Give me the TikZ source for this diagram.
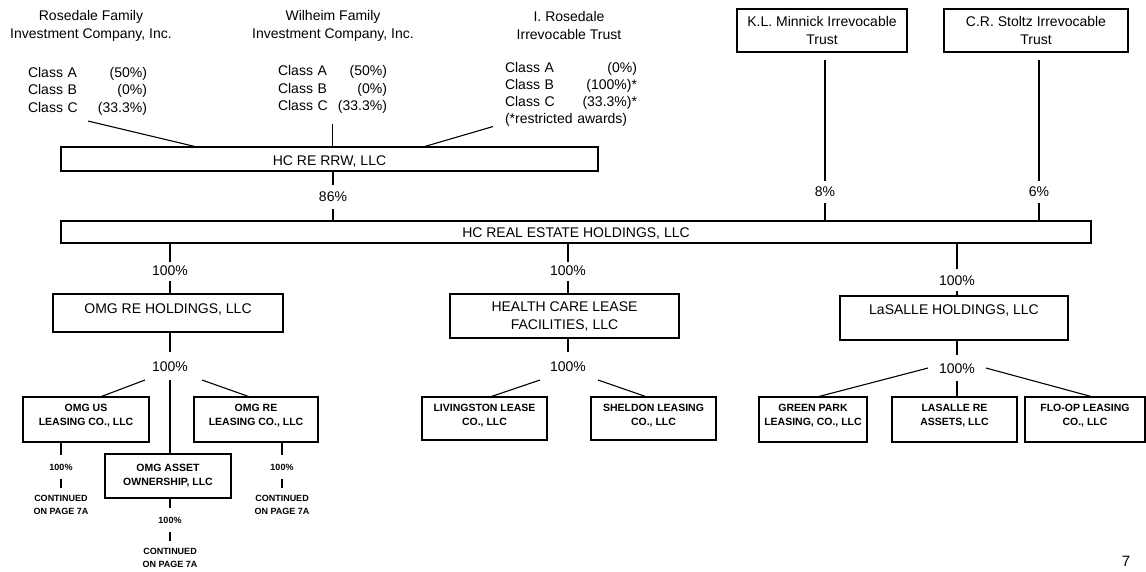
\documentclass[tikz,border=0pt]{standalone}
\usepackage{fontspec}
\setmainfont{Liberation Sans}
\begin{document}
\begin{tikzpicture}[x=1pt,y=-1pt,
  every node/.style={inner sep=0pt, outer sep=0pt},
  lbl/.style={font=\fontsize{14}{18}\selectfont, align=center},
  cls/.style={font=\fontsize{14}{17.5}\selectfont, align=left, anchor=north west},
  box/.style={draw, line width=1.1pt, font=\fontsize{14}{18}\selectfont, align=center},
  sbox/.style={draw, line width=1.1pt, font=\bfseries\fontsize{10.5}{14}\selectfont, align=center},
  pct/.style={font=\fontsize{14}{18}\selectfont, text height=10pt, text depth=0pt},
  spct/.style={font=\bfseries\fontsize{9}{12}\selectfont, text height=6.5pt, text depth=0pt, inner ysep=8.75pt},
  cont/.style={font=\bfseries\fontsize{9}{12.5}\selectfont, align=center, inner ysep=7.75pt},
  conn/.style={line width=1.1pt}
]
\path[use as bounding box, fill=white] (0,0) rectangle (1146,572);

% ---------- top owners ----------
\node[lbl] (rosefam) at (91,25.5) {Rosedale Family\\Investment Company, Inc.};
\node[lbl] (wilfam) at (333,25.5) {Wilheim Family\\Investment Company, Inc.};
\node[lbl] (irtrust) at (569,25.5) {I. Rosedale\\Irrevocable Trust};

\node[cls, text width=119pt] (rcls) at (28,67) {Class A\hfill(50\%)\\Class B\hfill(0\%)\\Class C\hfill(33.3\%)};
\node[cls, text width=109pt] (wcls) at (278,65.5) {Class A\hfill(50\%)\\Class B\hfill(0\%)\\Class C\hfill(33.3\%)};
\node[cls, text width=132pt, font=\fontsize{14}{17}\selectfont] (icls) at (505,62.5) {Class A\hfill(0\%)\\Class B\hfill(100\%)*\\Class C\hfill(33.3\%)*\\(*restricted awards)};

\node[box, minimum width=170pt, minimum height=43pt] (klm) at (822,30.5) {K.L. Minnick Irrevocable\\Trust};
\node[box, minimum width=184pt, minimum height=43pt] (crs) at (1036,30.5) {C.R. Stoltz Irrevocable\\Trust};

% ---------- middle bars ----------
\node[box, minimum width=537pt, minimum height=24pt, text height=14pt, text depth=0pt] (rrw) at (329.5,159) {HC RE RRW, LLC};
\node[box, minimum width=1030pt, minimum height=22pt, text height=12pt, text depth=0pt] (hcre) at (576,232) {HC REAL ESTATE HOLDINGS, LLC};

% connectors into HC RE RRW
\coordinate (rclsend) at ([xshift=60pt,yshift=-6pt]rcls.south west);
\draw[conn] (rclsend) -- ([xshift=-132.5pt]rrw.north);
\coordinate (wclsend) at ([yshift=-10.5pt]wcls.south);
\draw[conn] (wclsend) -- (rrw.north -| wclsend);
\coordinate (iclsend) at ([xshift=-12pt,yshift=0pt]icls.south west);
\draw[conn] (iclsend) -- ([xshift=93.5pt]rrw.north);

% percentages into HC REAL ESTATE HOLDINGS
\node[pct, inner ysep=7pt] (p86) at (333,197) {86\%};
\draw[conn] (rrw.south -| p86) -- (p86.north);
\draw[conn] (p86.south) -- (hcre.north -| p86);

\node[pct, inner ysep=6pt] (p8) at (825,192) {8\%};
\coordinate (klmb) at ([yshift=-8pt]klm.south);
\draw[conn] (klmb -| p8) -- (p8.north);
\draw[conn] (p8.south) -- (hcre.north -| p8);

\node[pct, inner ysep=6pt] (p6) at (1039,192) {6\%};
\coordinate (crsb) at ([yshift=-8pt]crs.south);
\draw[conn] (crsb -| p6) -- (p6.north);
\draw[conn] (p6.south) -- (hcre.north -| p6);

% ---------- second level ----------
\node[box, minimum width=230pt, minimum height=38pt, text height=10pt, text depth=10pt] (omg) at (168,313) {OMG RE HOLDINGS, LLC};
\node[box, minimum width=229pt, minimum height=44pt, text depth=0pt] (hclf) at (564.5,316) {HEALTH CARE LEASE\\FACILITIES, LLC};
\node[box, minimum width=228pt, minimum height=44pt, text height=10pt, text depth=18pt] (lsh) at (954,318) {LaSALLE HOLDINGS, LLC};

\node[pct, inner ysep=4.5pt] (p1) at (170,271) {100\%};
\draw[conn] (hcre.south -| p1) -- (p1.north);
\draw[conn] (p1.south) -- (omg.north -| p1);

\node[pct, inner ysep=4.5pt] (p3) at (568,271) {100\%};
\draw[conn] (hcre.south -| p3) -- (p3.north);
\draw[conn] (p3.south) -- (hclf.north -| p3);

\node[pct, inner ysep=6pt] (p4) at (957,280) {100\%};
\draw[conn] (hcre.south -| p4) -- (p4.north);
\draw[conn] (p4.south) -- (lsh.north -| p4);

% ---------- third level: OMG ----------
\node[sbox, minimum width=126pt, minimum height=45pt, text depth=9pt] (omgus) at (86,419.5) {OMG US\\LEASING CO., LLC};
\node[sbox, minimum width=124pt, minimum height=45pt, text depth=9pt] (omgrl) at (256,419.5) {OMG RE\\LEASING CO., LLC};
\node[sbox, minimum width=126pt, minimum height=44pt] (omga) at (168,476) {OMG ASSET\\OWNERSHIP, LLC};

\node[pct, inner ysep=9pt] (p5) at (170,366) {100\%};
\draw[conn] (omg.south -| p5) -- (p5.north);
\draw[conn] ([xshift=-25pt]p5.south) -- ([xshift=14pt]omgus.north);
\draw[conn] ([xshift=32pt]p5.south) -- ([xshift=-6pt]omgrl.north);
\draw[conn] (p5.south) -- (omga.north -| p5);

\node[spct] (s1) at (61,467) {100\%};
\node[cont] (c1) at (61,505) {CONTINUED\\ON PAGE 7A};
\draw[conn] (omgus.south -| s1) -- (s1.north);
\draw[conn] (s1.south) -- (c1.north);

\node[spct] (s2) at (282,467) {100\%};
\node[cont] (c2) at (282,505) {CONTINUED\\ON PAGE 7A};
\draw[conn] (omgrl.south -| s2) -- (s2.north);
\draw[conn] (s2.south) -- (c2.north);

\node[spct] (s3) at (170,520) {100\%};
\node[cont] (c3) at (170,558) {CONTINUED\\ON PAGE 7A};
\draw[conn] (omga.south -| s3) -- (s3.north);
\draw[conn] (s3.south) -- (c3.north);

% ---------- third level: Health Care ----------
\node[sbox, minimum width=125pt, minimum height=43pt, text depth=8pt] (liv) at (484.5,418.5) {LIVINGSTON LEASE\\CO., LLC};
\node[sbox, minimum width=125pt, minimum height=43pt, text depth=8pt] (shel) at (653.5,418.5) {SHELDON LEASING\\CO., LLC};

\node[pct, inner ysep=9pt] (p7) at (568,366) {100\%};
\draw[conn] (hclf.south -| p7) -- (p7.north);
\draw[conn] ([xshift=-28pt]p7.south) -- ([xshift=5.5pt]liv.north);
\draw[conn] ([xshift=30pt]p7.south) -- ([xshift=-6.5pt]shel.north);

% ---------- third level: LaSalle ----------
\node[sbox, minimum width=108pt, minimum height=45pt, text depth=9pt] (gp) at (813,419.5) {GREEN PARK\\LEASING, CO., LLC};
\node[sbox, minimum width=125pt, minimum height=45pt, text depth=9pt] (lre) at (954.5,419.5) {LASALLE RE\\ASSETS, LLC};
\node[sbox, minimum width=120pt, minimum height=45pt, text depth=9pt] (flo) at (1085,419.5) {FLO-OP LEASING\\CO., LLC};

\node[pct, inner ysep=8pt, inner xsep=11pt] (p9) at (957,368) {100\%};
\draw[conn] (lsh.south -| p9) -- (p9.north);
\draw[conn] (p9.west) -- ([xshift=4pt]gp.north);
\draw[conn] (p9.east) -- ([xshift=8pt]flo.north);
\draw[conn] (p9.south) -- (lre.north -| p9);

% page number
\node[font=\fontsize{15}{18}\selectfont] (pg) at (1126,561) {7};
\end{tikzpicture}
\end{document}
